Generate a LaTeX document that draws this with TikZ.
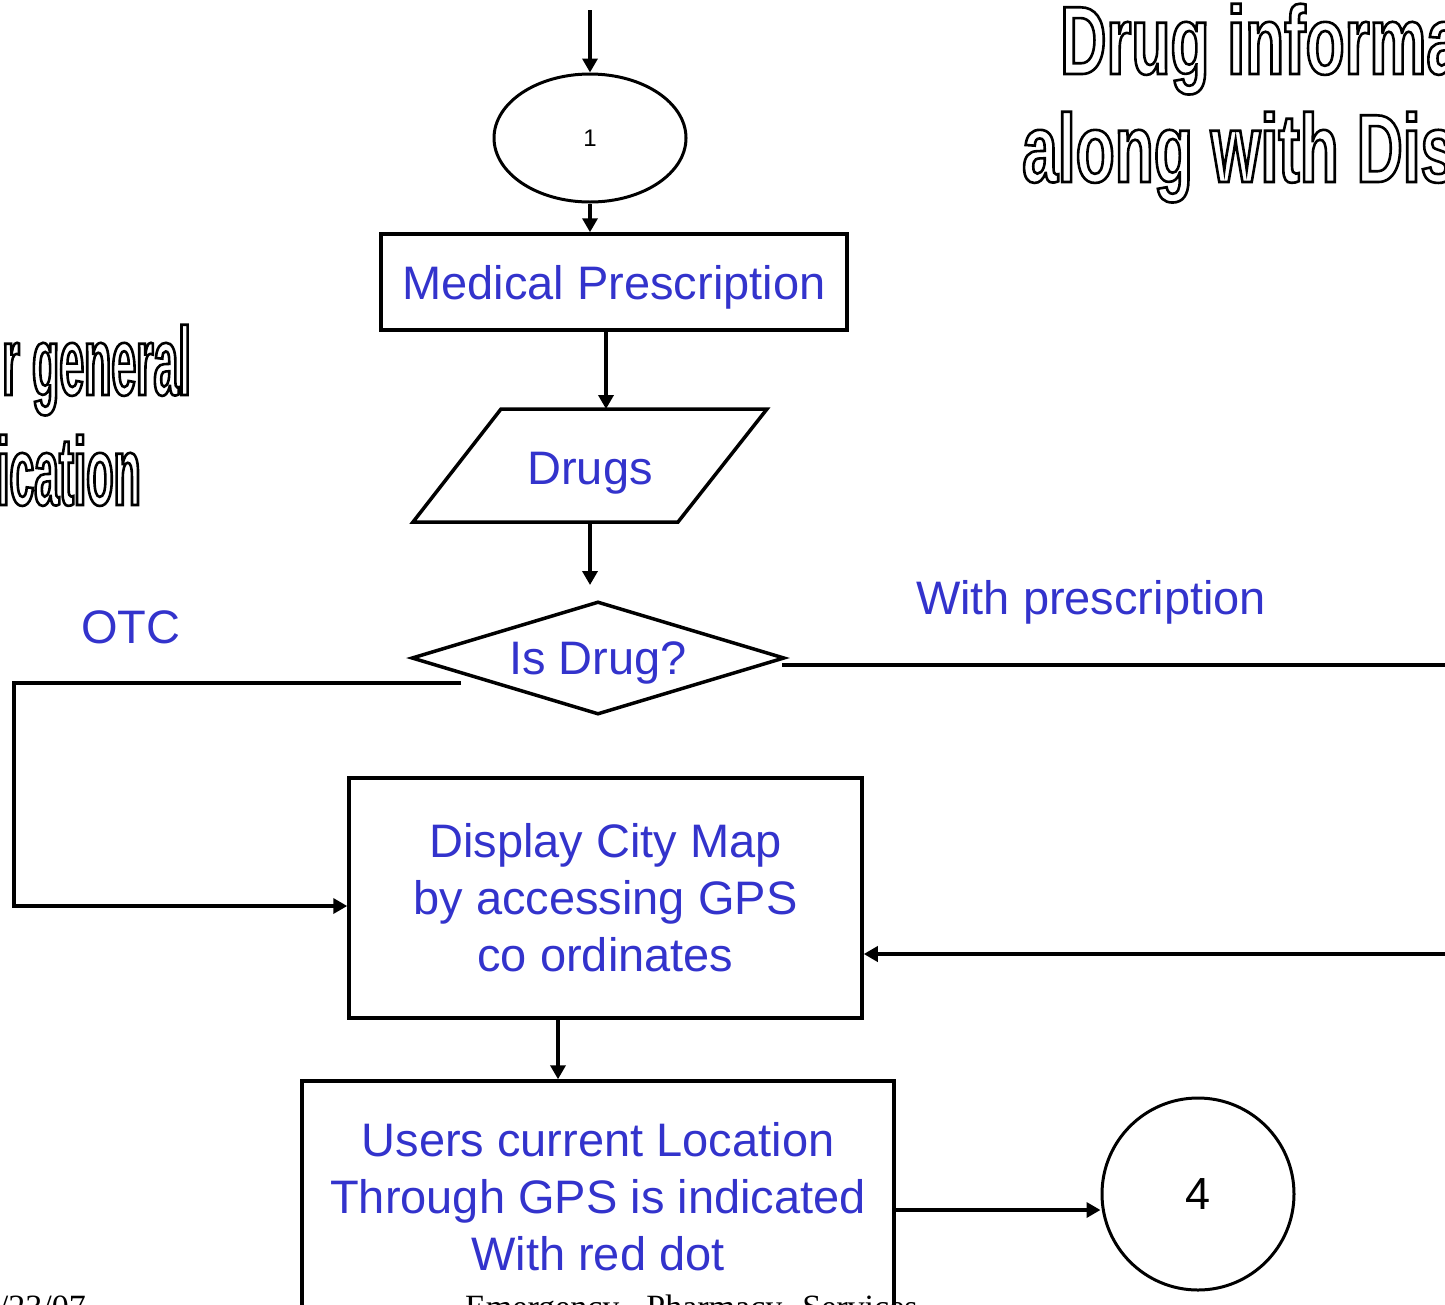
\documentclass[tikz,border=0pt]{standalone}
\usepackage{fontspec}
\setmainfont{Liberation Sans}
\newfontfamily\footfont{Liberation Serif}
\newfontfamily\titlefont[FakeStretch=0.66]{Liberation Sans Bold}
\newfontfamily\narrowtitlefont[FakeStretch=0.46]{Liberation Sans Bold}
\usetikzlibrary{arrows.meta,shapes.geometric}
\definecolor{flowblue}{RGB}{51,51,204}
% hollow (stroked only) lettering for the headings
\newcommand{\hollow}[1]{\special{pdf:literal direct q 1 Tr 2.6 w}#1\special{pdf:literal direct Q}}
\tikzset{
  flowbox/.style={draw, line width=3.5pt, rectangle, inner sep=0pt, align=center,
    text=flowblue, font=\fontsize{47}{57}\selectfont},
  flowtext/.style={inner sep=0pt, text=flowblue, text depth=0pt, font=\fontsize{47}{57}\selectfont},
  flow/.style={line width=3.5pt, -{Triangle[length=14pt,width=15pt]}},
  plainline/.style={line width=3.5pt},
  heading/.style={inner sep=0pt, font=\titlefont\fontsize{97}{110}\selectfont},
  narrowheading/.style={inner sep=0pt, font=\narrowtitlefont\fontsize{97}{110}\selectfont},
  footer/.style={inner sep=0pt, font=\footfont\fontsize{34}{40}\selectfont}
}
\begin{document}
\begin{tikzpicture}[x=1pt,y=-1pt]
\useasboundingbox (0,0) rectangle (1445,1304);
\clip (0,0) rectangle (1445,1304);

% headings cut by the page edges
\node[heading, anchor=base west] (h1) at (1060,74) {\hollow{Drug informa}};
\node[heading, anchor=base west] (h2) at (1022,182) {\hollow{along with Dis}};
\node[narrowheading, anchor=base east] (h3) at (191,395) {\hollow{r general}};
\node[narrowheading, anchor=base east] (h4) at (141,505) {\hollow{ication}};

% connector 1
\node[draw, ellipse, line width=3pt, minimum width=192pt, minimum height=128pt,
  inner sep=0pt, font=\fontsize{24}{28}\selectfont] (one) at (590,138) {1};
\coordinate (topin) at (590,10);

% Medical Prescription
\node[flowbox, text depth=0pt, minimum width=466pt, minimum height=96pt] (med) at (614,282) {Medical Prescription};

% Drugs (input parallelogram)
\coordinate (pa) at (413,522);
\coordinate (pb) at (501,409);
\coordinate (pc) at (767,409);
\coordinate (pd) at (678,522);
\draw[line width=3.5pt, line join=miter] (pa) -- (pb) -- (pc) -- (pd) -- cycle;
\node[flowtext] (drugs) at (590,468) {Drugs};

% decision
\node[draw, diamond, aspect=3.3, line width=3.5pt, inner sep=0pt,
  minimum width=373pt, minimum height=113pt, text=flowblue, text depth=0pt,
  font=\fontsize{47}{57}\selectfont] (isdrug) at (598,658) {Is Drug?};
\coordinate (decin) at (590,585);

% branch labels
\node[flowtext] (otc) at (131,627) {OTC};
\node[flowtext] (withrx) at (1091,597) {With prescription};

% map display
\node[flowbox, minimum width=513pt, minimum height=240pt] (city) at (605.5,898)
  {\rule{0pt}{3pt}Display City Map\\by accessing GPS\\co ordinates};

% user location
\node[flowbox, minimum width=592pt, minimum height=232pt] (users) at (598,1197)
  {Users current Location\\Through GPS is indicated\\With red dot};

% connector 4
\node[draw, circle, line width=3pt, minimum size=192pt, inner sep=0pt,
  font=\fontsize{45}{50}\selectfont] (four) at (1198,1194) {4};

% free line ends
\coordinate (otcout) at (461,683);
\coordinate (rxout) at (782,665);
\coordinate (rxend) at (1450,665);
\coordinate (backin) at (1450,954);

% connectors
\draw[flow] (topin) -- (one.north);
\draw[flow] (one.south) -- (one.south |- med.north);
\draw[flow] ([xshift=-8pt]med.south) -- ([xshift=-8pt]med.south |- pb);
\draw[flow] (drugs.center |- pa) -- (decin);
\draw[flow] (otcout) -- (14,683) |- ([yshift=-8pt]city.west);
\draw[plainline] (rxout) -- (rxend);
\draw[flow] (backin) -- (city.east |- backin);
\draw[flow] ([xshift=-47.5pt]city.south) -- ([xshift=-47.5pt]city.south |- users.north);
\draw[flow] ([yshift=-13pt]users.east) -- ([yshift=-16pt]four.west);

% footer line
\node[footer, anchor=base east] (date) at (86,1318) {/23/07};
\node[footer, anchor=base west] (foot) at (465,1318)
  {Emergency\hspace{27pt}Pharmacy\hspace{20pt}Services};
\end{tikzpicture}
\end{document}
